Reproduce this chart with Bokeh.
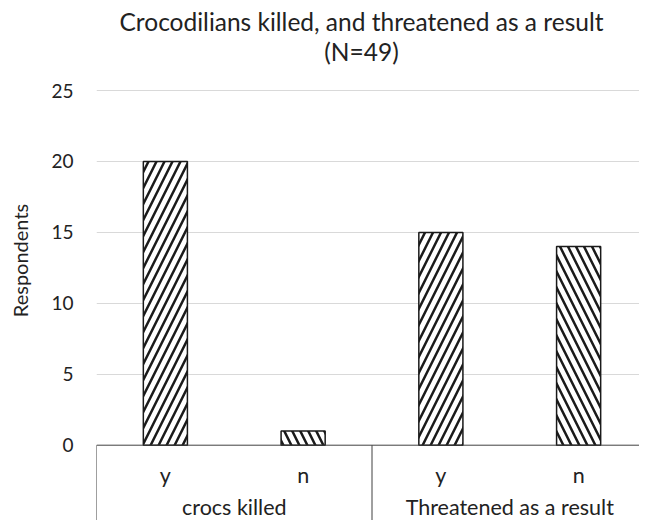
from bokeh.plotting import figure
from bokeh.models import Range1d, FixedTicker, ColumnDataSource, Label
from bokeh.core.properties import value
from bokeh.embed import file_html
from bokeh.resources import INLINE

# ---- data ----
groups = ["crocs killed", "Threatened as a result"]
answers = ["y", "n", "y", "n"]
answer_group = [0, 0, 1, 1]
counts = [20, 1, 15, 14]
hatches = ["/", "\\", "/", "\\"]
y_ticks = [0, 5, 10, 15, 20, 25]
title_lines = ["Crocodilians killed, and threatened as a result", "(N=49)"]
y_label = "Respondents"

FONT = "Lato"
TXT = "#222222"

# ---- layout (picture pixels) ----
W, H = 639, 520
LEFT = 96                    # frame left inside figure
FRAME_L, FRAME_R = LEFT, W
FRAME_T, FRAME_B = 0, H
X_PX = 137.75                # pixels per category
Y0_PX, Y25_PX = 444.7, 90.0  # picture y of value 0 and 25
Y_PX = (Y0_PX - Y25_PX) / 25.0


def py(pic_y):
    return (Y0_PX - pic_y) / Y_PX


def px(pic_x):
    return (pic_x - FRAME_L) / X_PX


n = len(answers)
xpos = [i + 0.5 for i in range(n)]
group_centers = [sum(xpos[i] for i in range(n) if answer_group[i] == g) /
                 answer_group.count(g) for g in range(len(groups))]
group_edges = [0] + [sum(1 for a in answer_group if a <= g) for g in range(len(groups) - 1)]

p = figure(width=W, height=H, x_range=Range1d(0, px(FRAME_R)),
           y_range=Range1d(py(FRAME_B), py(FRAME_T)),
           x_axis_type=None, output_backend="svg", toolbar_location=None,
           min_border_left=LEFT, min_border_right=0, min_border_top=0, min_border_bottom=0)
p.outline_line_color = None
p.background_fill_color = "white"
p.border_fill_color = "white"

# y axis
ya = p.yaxis[0]
ya.ticker = FixedTicker(ticks=y_ticks)
ya.axis_line_color = None
ya.major_tick_line_color = None
ya.minor_tick_line_color = None
ya.major_label_text_font = FONT
ya.major_label_text_font_size = "19px"
ya.major_label_text_color = TXT
ya.major_label_standoff = 17
ya.axis_label = y_label
ya.axis_label_text_font = FONT
ya.axis_label_text_font_style = "normal"
ya.axis_label_text_font_size = "20px"
ya.axis_label_text_color = TXT
ya.axis_label_standoff = 16

p.xgrid.visible = False
p.ygrid.ticker = FixedTicker(ticks=y_ticks[1:])
p.ygrid.grid_line_color = "#d9d9d9"
p.ygrid.grid_line_width = 1

# bars
src = ColumnDataSource(dict(x=xpos, top=counts, hatch=hatches, ans=answers))
p.vbar(x="x", top="top", bottom=0, width=0.32, source=src,
       fill_color="white", line_color="#1a1a1a", line_width=1.5,
       hatch_pattern="hatch", hatch_color="#1a1a1a", hatch_scale=16, hatch_weight=2.5)

# category axis (drawn)
p.segment(x0=[0], y0=[0], x1=[n], y1=[0], line_color="#404040", line_width=1)
p.segment(x0=group_edges, y0=[0] * len(group_edges), x1=group_edges,
          y1=[py(FRAME_B + 20)] * len(group_edges), line_color="#404040", line_width=1)
p.text(x=xpos, y=[py(474)] * n, text=answers, text_align="center", text_baseline="alphabetic",
       text_font=value(FONT), text_font_size="21.5px", text_color=TXT)
p.text(x=group_centers, y=[py(506)] * len(groups), text=groups, text_align="center",
       text_baseline="alphabetic", text_font=value(FONT), text_font_size="21.5px", text_color=TXT)

# title
for t, base in zip(title_lines, [21, 51]):
    p.add_layout(Label(x=px(361), y=py(base), text=t, text_align="center",
                       text_baseline="alphabetic", text_font=FONT,
                       text_font_size="24.5px", text_color=TXT))

open("out.html", "w").write(file_html(p, INLINE))
